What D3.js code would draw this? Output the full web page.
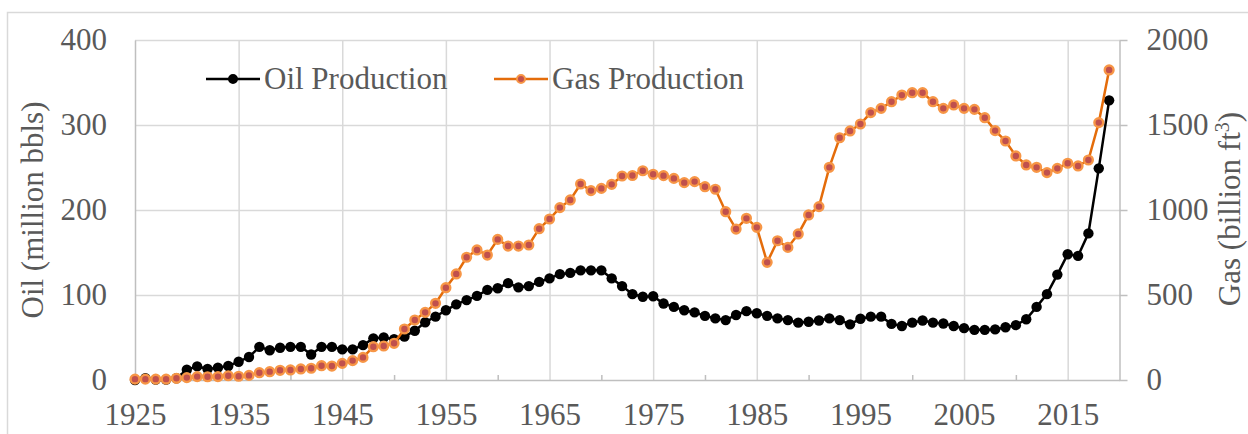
<!DOCTYPE html>
<html>
<head>
<meta charset="utf-8">
<script src="https://cdn.jsdelivr.net/npm/d3@7"></script>
<style>
  body { margin: 0; background: #fff; }
  svg text { font-family: "Liberation Serif", "DejaVu Serif", serif; fill: #595959; }
</style>
</head>
<body>
<div id="canvas"></div>
<script>
// years 1925..2019
var years = d3.range(1925, 2020);

// oil production, million bbls
var oil = [
  0, 2, 0.5, 0.5, 2, 12, 16, 13, 14.5, 16.5,
  21.5, 27, 39, 35, 38, 39, 39, 30, 39, 39,
  36, 36, 41, 49, 50, 48, 51, 58, 68, 74.5,
  82, 89, 94, 99, 106, 108, 114, 109, 110.5, 115.5,
  119.5, 124.5, 126, 129, 129, 129, 119.5, 110.5, 101, 98,
  98.5, 90, 86, 82, 79.5, 75.5, 72.5, 70.5, 76.5, 81,
  78.5, 75.5, 72.5, 70.5, 67.5, 68.5, 70, 72.5, 70.5, 65.5,
  72, 74.5, 74.5, 66, 63.5, 67.5, 70, 67.5, 66.5, 63.5,
  61, 59, 59, 59.5, 62, 64.5, 71.5, 86, 101, 124,
  148, 146, 172.5, 249, 329
];

// gas production, billion ft3
var gas = [
  5, 5, 5, 5, 10, 14, 20, 19, 20, 25,
  22, 27, 43, 49, 57, 59, 65, 69, 84, 82,
  98, 114, 133, 196, 200, 216, 300, 353, 398, 451,
  543, 624, 722, 765, 735, 827, 788, 788, 794, 890,
  947, 1014, 1059, 1153, 1114, 1127, 1151, 1200, 1203, 1231,
  1210, 1202, 1186, 1161, 1167, 1137, 1122, 990, 888, 951,
  898, 692, 819, 780, 859, 971, 1020, 1251, 1425, 1465,
  1506, 1573, 1598, 1637, 1676, 1690, 1690, 1637, 1598, 1618,
  1598, 1592, 1543, 1467, 1406, 1318, 1265, 1251, 1220, 1245,
  1275, 1259, 1294, 1514, 1824
];

var xLabels = [1925, 1935, 1945, 1955, 1965, 1975, 1985, 1995, 2005, 2015];
var xMinor = [1930, 1940, 1950, 1960, 1970, 1980, 1990, 2000, 2010];
var oilTicks = [0, 100, 200, 300, 400];
var gasTicks = [0, 500, 1000, 1500, 2000];

var W = 1248, H = 434;
var m = { left: 135, right: 1119.5, top: 40, bottom: 380 };
var FONT = "Liberation Serif, DejaVu Serif, serif";

var svg = d3.select("#canvas").append("svg")
  .attr("width", W)
  .attr("height", H);

svg.append("rect")
  .attr("x", 7.5).attr("y", 12.5)
  .attr("width", 1260).attr("height", 440)
  .attr("fill", "#fff")
  .attr("stroke", "#d9d9d9")
  .attr("stroke-width", 1.5);

var x = d3.scaleLinear().domain([1925, 2020]).range([m.left, m.right]);
var yOil = d3.scaleLinear().domain([0, 400]).range([m.bottom, m.top]);
var yGas = d3.scaleLinear().domain([0, 2000]).range([m.bottom, m.top]);

// gridlines
var gridY = svg.append("g")
  .attr("transform", "translate(" + m.left + ",0)")
  .call(d3.axisLeft(yOil).tickValues(oilTicks.slice(1)).tickSize(-(m.right - m.left)).tickFormat(""));
var gridX = svg.append("g")
  .attr("transform", "translate(0," + m.bottom + ")")
  .call(d3.axisBottom(x).tickValues(xLabels.slice(1)).tickSize(-(m.bottom - m.top)).tickFormat(""));
[gridY, gridX].forEach(function (g) {
  g.select(".domain").remove();
  g.selectAll("line").attr("stroke", "#d9d9d9").attr("stroke-width", 1.5);
});

// axes
var axLeft = svg.append("g")
  .attr("transform", "translate(" + m.left + ",0)")
  .call(d3.axisLeft(yOil).tickValues(oilTicks).tickSize(0).tickPadding(28));

var axRight = svg.append("g")
  .attr("transform", "translate(" + m.right + ",0)")
  .call(d3.axisRight(yGas).tickValues(gasTicks).tickSize(8).tickSizeOuter(0).tickPadding(19)
    .tickFormat(d3.format("d")));

var axBottom = svg.append("g")
  .attr("transform", "translate(0," + m.bottom + ")")
  .call(d3.axisBottom(x).tickValues(xLabels).tickSize(0).tickSizeOuter(0).tickPadding(23)
    .tickFormat(d3.format("d")));

var axMinor = svg.append("g")
  .attr("transform", "translate(0," + m.bottom + ")")
  .call(d3.axisBottom(x).tickValues(xMinor).tickSize(-5).tickSizeOuter(0).tickFormat(""));
axMinor.select(".domain").remove();

[axLeft, axRight, axBottom, axMinor].forEach(function (g) {
  g.attr("font-family", FONT);
  g.select(".domain").attr("stroke", "#bfbfbf").attr("stroke-width", 1.5);
  g.selectAll("line").attr("stroke", "#bfbfbf").attr("stroke-width", 1.5);
  g.selectAll("text").attr("font-size", 31).attr("fill", "#595959");
});

// axis titles
svg.append("text")
  .attr("transform", "translate(43,210) rotate(-90)")
  .attr("text-anchor", "middle")
  .attr("font-family", FONT)
  .attr("font-size", 31)
  .text("Oil (million bbls)");

var gt = svg.append("text")
  .attr("transform", "translate(1240,209) rotate(-90)")
  .attr("text-anchor", "middle")
  .attr("font-family", FONT)
  .attr("font-size", 31);
gt.append("tspan").text("Gas (billion ft");
gt.append("tspan").attr("dy", -11).attr("font-size", 20).text("3");
gt.append("tspan").attr("dy", 11).text(")");

// series
var lineOil = d3.line()
  .x(function (d, i) { return x(years[i]); })
  .y(function (d) { return yOil(d); });
var lineGas = d3.line()
  .x(function (d, i) { return x(years[i]); })
  .y(function (d) { return yGas(d); });

svg.append("path")
  .datum(oil)
  .attr("d", lineOil)
  .attr("fill", "none")
  .attr("stroke", "#000")
  .attr("stroke-width", 2.5);

svg.selectAll(".oilDot")
  .data(oil).enter()
  .append("circle")
  .attr("class", "oilDot")
  .attr("cx", function (d, i) { return x(years[i]); })
  .attr("cy", function (d) { return yOil(d); })
  .attr("r", 5.2)
  .attr("fill", "#000");

svg.append("path")
  .datum(gas)
  .attr("d", lineGas)
  .attr("fill", "none")
  .attr("stroke", "#e46c0a")
  .attr("stroke-width", 2.5);

svg.selectAll(".gasDot")
  .data(gas).enter()
  .append("circle")
  .attr("class", "gasDot")
  .attr("cx", function (d, i) { return x(years[i]); })
  .attr("cy", function (d) { return yGas(d); })
  .attr("r", 4.4)
  .attr("fill", "#c0504d")
  .attr("stroke", "#f79646")
  .attr("stroke-width", 2.4);

// legend
var legend = [
  { name: "Oil Production", x0: 206, color: "#000", dot: "#000", ring: "#000" },
  { name: "Gas Production", x0: 494, color: "#e46c0a", dot: "#c0504d", ring: "#f79646" }
];
legend.forEach(function (l) {
  svg.append("line")
    .attr("x1", l.x0).attr("x2", l.x0 + 54)
    .attr("y1", 79).attr("y2", 79)
    .attr("stroke", l.color).attr("stroke-width", 2.5);
  svg.append("circle")
    .attr("cx", l.x0 + 27).attr("cy", 79).attr("r", 4)
    .attr("fill", l.dot).attr("stroke", l.ring).attr("stroke-width", 2);
  svg.append("text")
    .attr("x", l.x0 + 58).attr("y", 89)
    .attr("font-family", FONT)
    .attr("font-size", 31)
    .text(l.name);
});
</script>
</body>
</html>
